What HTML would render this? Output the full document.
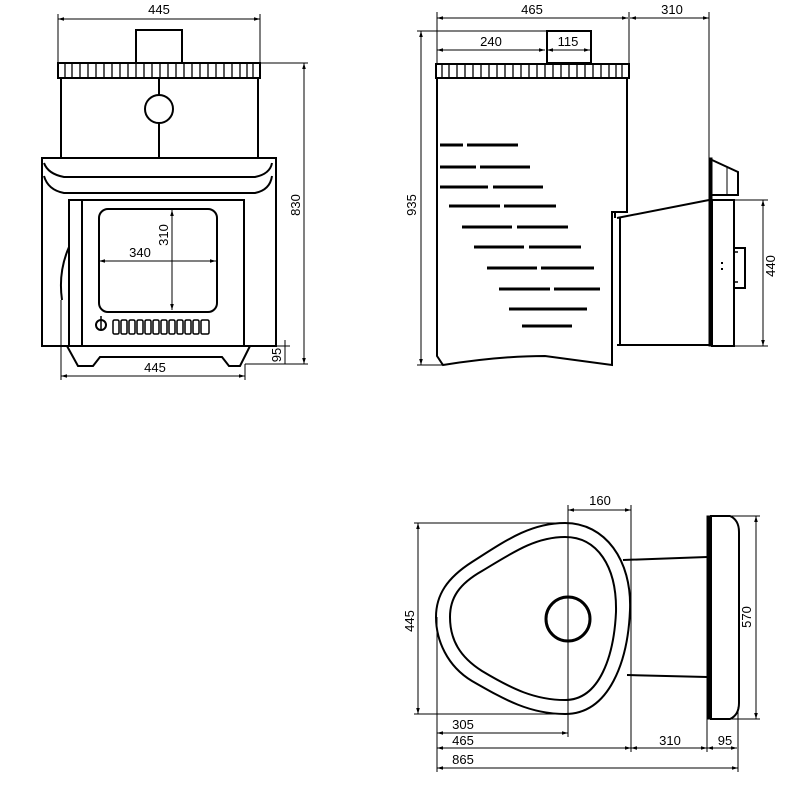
<!DOCTYPE html>
<html><head><meta charset="utf-8"><style>
html,body{margin:0;padding:0;background:#fff;}
svg{display:block;}
text{font-family:"Liberation Sans",sans-serif;font-size:13px;fill:#000;}
</style></head><body>
<svg width="800" height="787" viewBox="0 0 800 787" xmlns="http://www.w3.org/2000/svg">
<defs>
<marker id="a" viewBox="0 0 10 10" refX="10" refY="5" markerWidth="6" markerHeight="6" orient="auto-start-reverse"><path d="M0,2 L10,5 L0,8z" fill="#000"/></marker>
</defs>
<g fill="none" stroke="#000" stroke-width="1">
<!-- FRONT VIEW dims -->
<line x1="58" y1="19" x2="260" y2="19" marker-start="url(#a)" marker-end="url(#a)"/>
<line x1="58" y1="14" x2="58" y2="63"/><line x1="260" y1="14" x2="260" y2="63"/>
<line x1="260" y1="63" x2="308" y2="63"/><line x1="245" y1="364" x2="308" y2="364"/>
<line x1="304" y1="63" x2="304" y2="364" marker-start="url(#a)" marker-end="url(#a)"/>
<line x1="250" y1="346" x2="290" y2="346"/>
<line x1="285" y1="340" x2="285" y2="364"/>
<line x1="61" y1="376" x2="245" y2="376" marker-start="url(#a)" marker-end="url(#a)"/>
<line x1="61" y1="300" x2="61" y2="380"/><line x1="245" y1="364" x2="245" y2="380"/>
<line x1="99" y1="261" x2="216" y2="261" marker-start="url(#a)" marker-end="url(#a)"/>
<line x1="172" y1="210" x2="172" y2="310" marker-start="url(#a)" marker-end="url(#a)"/>
<!-- SIDE VIEW dims -->
<line x1="437" y1="18" x2="628" y2="18" marker-start="url(#a)" marker-end="url(#a)"/>
<line x1="630" y1="18" x2="709" y2="18" marker-start="url(#a)" marker-end="url(#a)"/>
<line x1="437" y1="12" x2="437" y2="64"/><line x1="629" y1="12" x2="629" y2="64"/><line x1="709" y1="12" x2="709" y2="158"/>
<line x1="437" y1="50" x2="545" y2="50" marker-start="url(#a)" marker-end="url(#a)"/>
<line x1="547" y1="50" x2="590" y2="50" marker-start="url(#a)" marker-end="url(#a)"/>
<line x1="421" y1="31" x2="421" y2="365" marker-start="url(#a)" marker-end="url(#a)"/>
<line x1="417" y1="31" x2="547" y2="31"/><line x1="417" y1="365" x2="443" y2="365"/>
<line x1="734" y1="200" x2="768" y2="200"/><line x1="734" y1="346" x2="768" y2="346"/>
<line x1="763" y1="200" x2="763" y2="346" marker-start="url(#a)" marker-end="url(#a)"/>
<!-- TOP VIEW dims -->
<line x1="568" y1="510" x2="631" y2="510" marker-start="url(#a)" marker-end="url(#a)"/>
<line x1="568" y1="505" x2="568" y2="737"/>
<line x1="631" y1="505" x2="631" y2="752"/>
<line x1="418" y1="523" x2="418" y2="714" marker-start="url(#a)" marker-end="url(#a)"/>
<line x1="414" y1="523" x2="565" y2="523"/><line x1="414" y1="714" x2="565" y2="714"/>
<line x1="711" y1="516" x2="760" y2="516"/><line x1="711" y1="719" x2="760" y2="719"/>
<line x1="756" y1="516" x2="756" y2="719" marker-start="url(#a)" marker-end="url(#a)"/>
<line x1="437" y1="617" x2="437" y2="772"/>
<line x1="707" y1="719" x2="707" y2="752"/><line x1="738" y1="707" x2="738" y2="772"/>
<line x1="437" y1="733" x2="568" y2="733" marker-start="url(#a)" marker-end="url(#a)"/>
<line x1="437" y1="748" x2="631" y2="748" marker-start="url(#a)" marker-end="url(#a)"/>
<line x1="631" y1="748" x2="707" y2="748" marker-start="url(#a)" marker-end="url(#a)"/>
<line x1="707" y1="748" x2="737" y2="748" marker-start="url(#a)" marker-end="url(#a)"/>
<line x1="437" y1="768" x2="738" y2="768" marker-start="url(#a)" marker-end="url(#a)"/>
</g>

<g fill="none" stroke="#000" stroke-width="2">
<!-- FRONT -->
<rect x="136" y="30" width="46" height="33"/>
<rect x="58" y="63" width="202" height="15"/>
<path d="M61,78 V158 M258,78 V158 M159,78 V95 M159,123 V158"/>
<circle cx="159" cy="109" r="14"/>
<rect x="42" y="158" width="234" height="188"/>
<path d="M44,163 Q48,174 64,177 H255 Q270,174 272,163"/>
<path d="M44,176 Q48,190 64,193 H255 Q270,190 272,176"/>
<rect x="69" y="200" width="175" height="146"/>
<path d="M82,200 V346"/>
<rect x="99" y="209" width="118" height="103" rx="9"/>
<path d="M69,247 Q58,272 62,300" />
<path d="M67,346 L78,366 H93 L100,357 H222 L229,366 H240 L250,346"/>
<circle cx="101" cy="325" r="5"/>
<path d="M101,316 V330" stroke-width="1.5"/>
<!-- SIDE -->
<rect x="547" y="31" width="44" height="32"/>
<rect x="436" y="64" width="193" height="14"/>
<path d="M437,78 V356 L443,365 Q500,356 545,356 L612,365 V212 H627 V78"/>
<path d="M615,212 V218 M617,218 L709,200 M617,345 H709 M620,218 V345"/>
<rect x="712" y="200" width="22" height="146"/>
<path d="M734,248 H745 V288 H734"/>
<!-- TOP -->
<path d="M565,523 C605,523 632,560 630,610 C628,660 610,714 565,714 C530,714 505,700 472,681 C447,666 436,640 436,617 C436,595 447,578 472,562 C505,541 530,523 565,523 Z"/>
<path d="M565,537 C597,537 617,566 616,612 C614,655 600,700 565,700 C535,700 512,689 482,671 C460,657 450,640 450,617 C450,598 459,584 482,571 C512,553 535,537 565,537 Z"/>
<circle cx="568" cy="619" r="22" stroke-width="3"/>
<path d="M623,560 L707,557 M627,675 L707,677"/>
<path d="M711,516 H730 Q739,520 739,532 V703 Q739,715 730,719 H711 Z"/>
</g>
<g stroke="#000" fill="none">
<rect x="709" y="158" width="3" height="188" fill="#000"/>
<path d="M712,160 L738,172 V195 H712" stroke-width="2"/>
<path d="M727,167 V195" stroke-width="1"/>
<rect x="707" y="516" width="4" height="203" fill="#000"/>
<path d="M738,252 h-4 M738,282 h-4" stroke-width="1.5"/>
</g>
<g fill="#000">
<rect x="721" y="262" width="2" height="2"/><rect x="721" y="268" width="2" height="2"/>
</g>
<!-- grille ticks -->
<g stroke="#000" stroke-width="1.3" id="t1">
<path d="M65,64V78 M72,64V78 M80,64V78 M88,64V78 M96,64V78 M104,64V78 M112,64V78 M120,64V78 M128,64V78 M136,64V78 M144,64V78 M152,64V78 M160,64V78 M168,64V78 M176,64V78 M184,64V78 M192,64V78 M200,64V78 M208,64V78 M216,64V78 M224,64V78 M232,64V78 M240,64V78 M247,64V78 M253,64V78"/>
<path d="M442,65V78 M449,65V78 M457,65V78 M465,65V78 M473,65V78 M481,65V78 M489,65V78 M497,65V78 M505,65V78 M513,65V78 M521,65V78 M529,65V78 M537,65V78 M545,65V78 M553,65V78 M561,65V78 M569,65V78 M577,65V78 M585,65V78 M593,65V78 M601,65V78 M609,65V78 M616,65V78 M622,65V78"/>
</g>
<!-- vent slots front -->
<g fill="none" stroke="#000" stroke-width="1.5">
<rect x="113" y="320" width="6" height="14" rx="1.5"/><rect x="121" y="320" width="6" height="14" rx="1.5"/><rect x="129" y="320" width="6" height="14" rx="1.5"/><rect x="137" y="320" width="6" height="14" rx="1.5"/><rect x="145" y="320" width="6" height="14" rx="1.5"/><rect x="153" y="320" width="6" height="14" rx="1.5"/><rect x="161" y="320" width="6" height="14" rx="1.5"/><rect x="169" y="320" width="6" height="14" rx="1.5"/><rect x="177" y="320" width="6" height="14" rx="1.5"/><rect x="185" y="320" width="6" height="14" rx="1.5"/><rect x="193" y="320" width="6" height="14" rx="1.5"/><rect x="201" y="320" width="8" height="14" rx="1.5"/>
</g>
<!-- side slots -->
<g stroke="#000" stroke-width="3">
<path d="M440,145H463 M467,145H518 M440,167H476 M480,167H530 M440,187H488 M493,187H543 M449,206H500 M504,206H556 M462,227H512 M517,227H568 M474,247H524 M529,247H581 M487,268H537 M541,268H594 M499,289H550 M554,289H600 M509,309H587 M522,326H572"/>
</g>
<!-- texts -->
<text x="159" y="14" text-anchor="middle">445</text>
<text x="155" y="372" text-anchor="middle">445</text>
<text x="140" y="257" text-anchor="middle">340</text>
<text transform="translate(168,235) rotate(-90)" text-anchor="middle">310</text>
<text transform="translate(300,205) rotate(-90)" text-anchor="middle">830</text>
<text transform="translate(281,355) rotate(-90)" text-anchor="middle">95</text>
<text x="532" y="14" text-anchor="middle">465</text>
<text x="672" y="14" text-anchor="middle">310</text>
<text x="491" y="46" text-anchor="middle">240</text>
<text x="568" y="46" text-anchor="middle">115</text>
<text transform="translate(416,205) rotate(-90)" text-anchor="middle">935</text>
<text transform="translate(775,266) rotate(-90)" text-anchor="middle">440</text>
<text x="600" y="505" text-anchor="middle">160</text>
<text transform="translate(414,621) rotate(-90)" text-anchor="middle">445</text>
<text transform="translate(751,617) rotate(-90)" text-anchor="middle">570</text>
<text x="463" y="729" text-anchor="middle">305</text>
<text x="463" y="745" text-anchor="middle">465</text>
<text x="670" y="745" text-anchor="middle">310</text>
<text x="725" y="745" text-anchor="middle">95</text>
<text x="463" y="764" text-anchor="middle">865</text>
</svg>
</body></html>
